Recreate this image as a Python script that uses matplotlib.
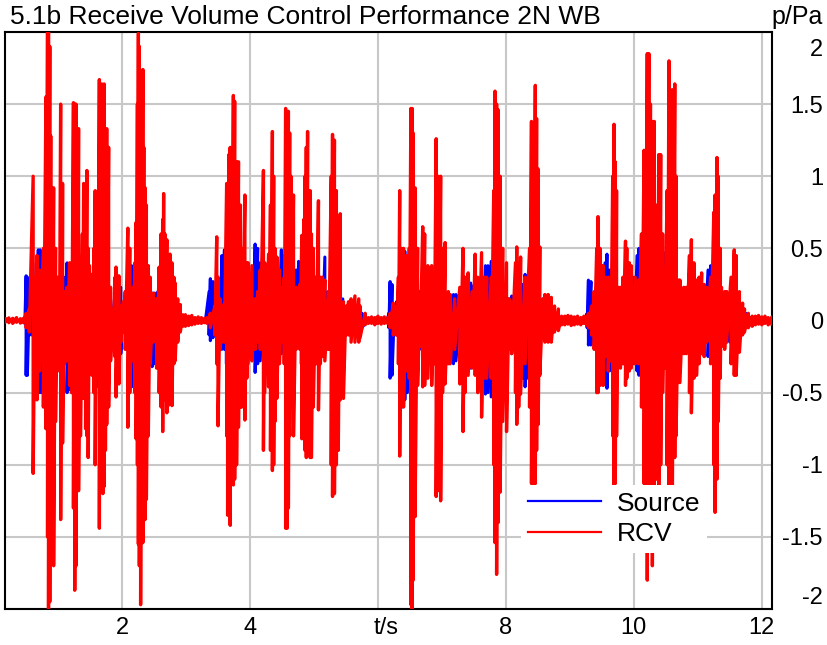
import numpy as np
import matplotlib
matplotlib.use("Agg")
import matplotlib.pyplot as plt
from matplotlib.lines import Line2D
from matplotlib.transforms import ScaledTranslation

plt.rcParams['font.family'] = ['Liberation Sans', 'DejaVu Sans']

# RCV (red) peak strokes: time, upper peak, lower peak
rcv_t = [0.17, 0.23, 0.29, 0.35, 0.41, 0.46,
         0.50, 0.55, 0.61, 0.64, 0.67, 0.71, 0.77, 0.81, 0.835, 0.85, 0.87, 0.885, 0.90, 0.93, 0.96, 0.99,
         1.02, 1.04, 1.06, 1.07, 1.10, 1.14, 1.18, 1.21, 1.24, 1.26, 1.28, 1.30, 1.32, 1.35, 1.38, 1.40,
         1.43, 1.45, 1.47, 1.49, 1.53, 1.56, 1.58, 1.60, 1.62, 1.645, 1.66, 1.68, 1.70, 1.72, 1.74, 1.76,
         1.79, 1.82, 1.865, 1.89, 1.905, 1.93, 1.95, 1.98, 2.02, 2.05, 2.09, 2.12, 2.17, 2.20, 2.22, 2.24,
         2.255, 2.27, 2.29, 2.31, 2.325, 2.34, 2.36, 2.38, 2.41, 2.44, 2.49, 2.54, 2.58, 2.61, 2.635, 2.65,
         2.67, 2.70, 2.72, 2.75, 2.78, 2.81, 2.83, 2.87, 2.91, 2.95,
         2.99, 3.04, 3.09, 3.14, 3.19, 3.24, 3.29, 3.33,
         3.38, 3.45, 3.48, 3.50, 3.53, 3.56, 3.60, 3.635, 3.65, 3.67, 3.69, 3.71, 3.74, 3.76, 3.79, 3.82,
         3.85, 3.87, 3.92, 3.95, 3.97, 4.03, 4.08, 4.12, 4.16, 4.21, 4.23, 4.29, 4.32, 4.35, 4.37, 4.39,
         4.42, 4.46, 4.50, 4.535, 4.557, 4.58, 4.60, 4.62, 4.64, 4.68, 4.72, 4.75, 4.78, 4.81, 4.84, 4.86,
         4.88, 4.90, 4.94, 4.96, 4.99, 5.03, 5.07, 5.10, 5.13, 5.17, 5.23, 5.27, 5.29, 5.32, 5.35, 5.38,
         5.41, 5.46, 5.50, 5.54, 5.58, 5.64, 5.70, 5.72, 5.80, 5.85,
         5.90, 5.95, 6.00, 6.05, 6.10, 6.15,
         6.19, 6.24, 6.29, 6.32, 6.34, 6.36, 6.40, 6.45, 6.49, 6.515, 6.535, 6.55, 6.58, 6.62, 6.66, 6.70,
         6.73, 6.78, 6.84, 6.88, 6.91, 6.94, 6.98, 7.01, 7.05, 7.10, 7.13, 7.20, 7.28, 7.33, 7.36, 7.41,
         7.47, 7.52, 7.56, 7.62, 7.66, 7.70, 7.77, 7.81, 7.83, 7.855, 7.88, 7.91, 7.95, 8.01, 8.05, 8.09,
         8.15, 8.17, 8.20, 8.23, 8.30, 8.37, 8.40, 8.43, 8.46, 8.48, 8.505, 8.53, 8.58, 8.61, 8.66, 8.71,
         8.76, 8.82, 8.87,
         8.92, 8.97, 9.02, 9.07, 9.12, 9.17, 9.22, 9.26,
         9.29, 9.34, 9.38, 9.42, 9.44, 9.47, 9.50, 9.52, 9.56, 9.60, 9.64, 9.67, 9.69, 9.71, 9.73, 9.755,
         9.79, 9.83, 9.87, 9.89, 9.93, 9.96, 10.02, 10.07, 10.12, 10.16, 10.18, 10.21, 10.235, 10.26, 10.29, 10.32,
         10.36, 10.39, 10.42, 10.45, 10.48, 10.52, 10.55, 10.57, 10.60, 10.64, 10.66, 10.70, 10.72, 10.78, 10.82, 10.87,
         10.90, 10.94, 10.98, 11.02, 11.06, 11.10, 11.14, 11.20, 11.25, 11.27, 11.30, 11.32, 11.35, 11.37, 11.42, 11.45,
         11.52, 11.57, 11.60, 11.65, 11.70, 11.73, 11.79, 11.85,
         11.90, 11.95, 12.00, 12.05, 12.10, 12.16]
rcv_hi = [0.012, 0.018, 0.015, 0.02, 0.012, 0.015,
          0.05, 0.08, 1.0, 0.3, 0.45, 0.35, 0.5, 1.55, 2.05, 2.05, 1.9, 1.28, 0.7, 0.92, 0.5, 0.3,
          0.25, 1.5, 0.6, 0.95, 0.2, 0.23, 0.4, 0.3, 1.51, 1.5, 1.5, 0.9, 1.33, 0.44, 0.6, 0.95,
          0.7, 1.04, 0.5, 0.38, 0.32, 0.5, 0.9, 0.3, 0.5, 1.67, 1.2, 1.64, 1.3, 1.64, 1.3, 1.33,
          1.2, 0.23, 0.08, 0.3, 0.37, 0.2, 0.31, 0.1, 0.13, 0.2, 0.64, 0.5, 0.23, 0.4, 0.68, 1.5,
          1.99, 1.9, 1.7, 1.5, 1.74, 1.2, 0.92, 0.8, 0.38, 0.3, 0.19, 0.15, 0.37, 0.6, 0.7, 0.88,
          0.6, 0.56, 0.4, 0.46, 0.4, 0.3, 0.26, 0.15, 0.11, 0.04,
          0.04, 0.03, 0.035, 0.02, 0.025, 0.02, 0.015, 0.02,
          0.05, 0.1, 0.58, 0.3, 0.15, 0.1, 0.12, 0.95, 0.9, 1.15, 1.2, 1.15, 1.56, 1.52, 1.1, 1.1,
          0.8, 0.5, 0.87, 0.4, 0.4, 0.38, 0.15, 0.2, 0.35, 1.04, 0.4, 0.46, 0.8, 1.31, 1.0, 0.5,
          0.44, 0.35, 0.23, 0.3, 1.47, 1.4, 1.45, 1.3, 1.0, 0.87, 0.23, 0.2, 0.25, 0.59, 0.7, 1.0,
          1.2, 1.31, 0.9, 0.6, 0.5, 0.3, 0.83, 0.3, 0.3, 0.28, 0.2, 1.0, 1.29, 1.25, 0.9, 0.6,
          0.74, 0.13, 0.1, 0.13, 0.15, 0.17, 0.15, 0.1, 0.05, 0.02,
          0.025, 0.02, 0.03, 0.02, 0.025, 0.02,
          0.05, 0.12, 0.1, 0.3, 0.9, 0.5, 0.5, 0.45, 0.5, 1.47, 1.47, 1.3, 0.92, 0.5, 0.18, 0.65,
          0.6, 0.38, 0.38, 0.3, 1.26, 1.0, 1.0, 0.5, 0.54, 0.2, 0.18, 0.15, 0.23, 0.5, 0.3, 0.33,
          0.2, 0.46, 0.3, 0.47, 0.3, 0.3, 0.3, 0.9, 1.59, 1.5, 1.46, 1.0, 0.5, 0.4, 0.15, 0.13,
          0.4, 0.51, 0.4, 0.44, 0.3, 0.5, 1.38, 1.3, 1.63, 1.4, 1.05, 0.51, 0.15, 0.18, 0.18, 0.16,
          0.1, 0.08, 0.03,
          0.03, 0.035, 0.03, 0.025, 0.03, 0.02, 0.03, 0.025,
          0.05, 0.1, 0.2, 0.5, 0.72, 0.5, 0.38, 0.38, 0.3, 0.3, 0.28, 1.0, 1.36, 1.1, 0.9, 0.23,
          0.23, 0.3, 0.55, 0.5, 0.4, 0.38, 0.3, 0.28, 0.6, 1.18, 1.1, 1.85, 1.85, 1.5, 1.38, 1.38,
          0.8, 1.15, 1.15, 0.6, 0.33, 0.9, 1.8, 1.55, 1.6, 1.64, 1.0, 0.28, 0.28, 0.23, 0.23, 0.45,
          0.56, 0.4, 0.28, 0.3, 0.33, 0.25, 0.23, 0.3, 0.75, 0.87, 1.13, 1.0, 0.5, 0.23, 0.2, 0.2,
          0.3, 0.49, 0.45, 0.2, 0.12, 0.08, 0.05, 0.03,
          0.03, 0.035, 0.025, 0.03, 0.02, 0.025]
rcv_lo = [-0.012, -0.015, -0.02, -0.012, -0.018, -0.015,
          -0.05, -0.08, -1.06, -0.3, -0.55, -0.35, -0.6, -0.75, -1.5, -2.05, -1.95, -1.15, -1.2, -1.7, -0.7, -0.23,
          -0.35, -1.38, -0.6, -0.85, -0.3, -0.28, -0.45, -0.5, -1.3, -1.87, -1.7, -1.0, -1.18, -0.8, -0.5, -0.54,
          -0.75, -0.8, -0.95, -0.2, -0.38, -0.5, -1.0, -0.3, -0.4, -1.44, -1.0, -1.0, -1.2, -1.15, -0.9, -0.72,
          -0.6, -0.28, -0.1, -0.25, -0.53, -0.3, -0.44, -0.15, -0.08, -0.2, -0.74, -0.5, -0.28, -0.5, -0.82, -1.0,
          -1.55, -1.7, -1.97, -1.5, -1.54, -1.3, -1.38, -1.24, -0.8, -0.3, -0.15, -0.33, -0.5, -0.6, -0.77, -0.55,
          -0.5, -0.64, -0.59, -0.4, -0.59, -0.3, -0.28, -0.15, -0.08, -0.04,
          -0.04, -0.035, -0.03, -0.025, -0.02, -0.02, -0.015, -0.02,
          -0.05, -0.1, -0.3, -0.73, -0.2, -0.15, -0.15, -0.8, -1.35, -1.2, -1.42, -1.1, -1.14, -1.1, -1.0, -0.74,
          -0.6, -0.6, -0.69, -0.4, -0.3, -0.28, -0.2, -0.15, -0.2, -0.9, -0.5, -0.46, -0.9, -1.04, -1.0, -0.7,
          -0.54, -0.3, -0.15, -0.3, -1.44, -1.44, -1.3, -0.8, -0.6, -0.8, -0.2, -0.15, -0.2, -0.82, -0.7, -0.9,
          -0.95, -0.8, -0.95, -0.95, -0.6, -0.3, -0.62, -0.3, -0.25, -0.28, -0.2, -1.0, -1.22, -1.2, -1.0, -0.9,
          -0.55, -0.54, -0.1, -0.1, -0.15, -0.15, -0.15, -0.12, -0.03, -0.02,
          -0.02, -0.03, -0.02, -0.025, -0.02, -0.02,
          -0.05, -0.1, -0.1, -0.3, -0.94, -0.5, -0.6, -0.35, -0.4, -1.97, -2.05, -1.8, -1.36, -0.45, -0.18, -0.46,
          -0.45, -0.4, -0.45, -0.3, -1.22, -1.18, -1.25, -0.5, -0.44, -0.3, -0.3, -0.2, -0.44, -0.77, -0.5, -0.38,
          -0.33, -0.38, -0.5, -0.67, -0.4, -0.4, -0.4, -1.0, -1.54, -1.76, -1.4, -1.19, -0.7, -0.77, -0.2, -0.23,
          -0.5, -0.72, -0.6, -0.51, -0.3, -0.6, -1.13, -1.13, -1.13, -0.9, -0.72, -0.38, -0.1, -0.15, -0.15, -0.15,
          -0.08, -0.07, -0.03,
          -0.03, -0.025, -0.035, -0.03, -0.025, -0.03, -0.02, -0.03,
          -0.05, -0.1, -0.2, -0.5, -0.5, -0.45, -0.4, -0.45, -0.25, -0.35, -0.28, -0.8, -1.4, -1.13, -0.8, -0.28,
          -0.33, -0.3, -0.45, -0.4, -0.35, -0.33, -0.3, -0.3, -0.6, -1.13, -1.6, -1.8, -1.5, -1.3, -1.7, -1.2,
          -1.1, -1.19, -1.0, -0.5, -0.33, -1.0, -1.55, -1.55, -1.4, -0.95, -0.8, -0.43, -0.43, -0.23, -0.23, -0.5,
          -0.64, -0.4, -0.38, -0.3, -0.23, -0.25, -0.15, -0.3, -1.0, -1.33, -1.1, -0.7, -0.4, -0.18, -0.2, -0.15,
          -0.3, -0.38, -0.38, -0.22, -0.1, -0.08, -0.05, -0.04,
          -0.03, -0.025, -0.03, -0.02, -0.03, -0.025]

# Source (blue) peak strokes, quiet stretches included so the trace stays on the baseline
src_t = [0.17, 0.30, 0.45,
         0.48, 0.50, 0.52, 0.55, 0.58, 0.62, 0.66, 0.69, 0.72, 0.75, 0.78, 0.85, 0.90, 0.95, 1.00, 1.05,
         1.10, 1.14, 1.17, 1.20, 1.25, 1.30, 1.35, 1.40, 1.45, 1.50, 1.55, 1.60, 1.63, 1.70, 1.76, 1.82,
         1.88, 1.93, 1.98, 2.02, 2.07, 2.12, 2.15, 2.18, 2.25, 2.30, 2.36, 2.42, 2.47, 2.51, 2.56, 2.62,
         2.70, 2.78, 2.86, 2.94,
         3.00, 3.10, 3.20, 3.30,
         3.36, 3.38, 3.42, 3.46, 3.52, 3.56, 3.60, 3.63, 3.70, 3.78, 3.85, 3.92, 3.98, 4.05, 4.08, 4.12,
         4.16, 4.22, 4.30, 4.38, 4.45, 4.49, 4.52, 4.58, 4.65, 4.72, 4.76, 4.80, 4.88, 4.95, 5.02, 5.07,
         5.12, 5.17, 5.22, 5.30, 5.38, 5.45, 5.55, 5.65, 5.75,
         5.85, 5.95, 6.05, 6.14,
         6.17, 6.19, 6.22, 6.26, 6.29, 6.33, 6.38, 6.42, 6.46, 6.52, 6.58, 6.65, 6.72, 6.80, 6.88, 6.95,
         7.02, 7.10, 7.18, 7.22, 7.30, 7.38, 7.45, 7.49, 7.55, 7.62, 7.68, 7.72, 7.77, 7.82, 7.90, 7.98,
         8.05, 8.09, 8.14, 8.20, 8.26, 8.30, 8.34, 8.42, 8.50, 8.58, 8.68, 8.78,
         8.88, 9.00, 9.12, 9.24,
         9.27, 9.29, 9.33, 9.37, 9.43, 9.50, 9.55, 9.58, 9.62, 9.70, 9.78, 9.85, 9.92, 10.00, 10.05, 10.08,
         10.12, 10.20, 10.30, 10.40, 10.46, 10.49, 10.55, 10.65, 10.72, 10.80, 10.88, 10.95, 11.02, 11.10, 11.16, 11.20,
         11.26, 11.34, 11.40, 11.45, 11.50, 11.58, 11.66, 11.75,
         11.85, 11.95, 12.05, 12.16]
src_hi = [0.01, 0.01, 0.01,
          0.02, 0.31, 0.3, 0.15, 0.1, 0.3, 0.4, 0.49, 0.49, 0.45, 0.4, 0.4, 0.35, 0.3, 0.2, 0.35,
          0.3, 0.4, 0.38, 0.3, 0.4, 0.35, 0.3, 0.3, 0.3, 0.25, 0.2, 0.28, 0.3, 0.4, 0.35, 0.2,
          0.15, 0.2, 0.23, 0.1, 0.2, 0.3, 0.38, 0.3, 0.4, 0.4, 0.3, 0.2, 0.19, 0.19, 0.2, 0.25,
          0.2, 0.15, 0.08, 0.03,
          0.01, 0.01, 0.01, 0.01,
          0.2, 0.29, 0.27, 0.15, 0.2, 0.45, 0.49, 0.3, 0.4, 0.4, 0.35, 0.3, 0.25, 0.3, 0.53, 0.5,
          0.4, 0.35, 0.3, 0.35, 0.3, 0.49, 0.45, 0.4, 0.3, 0.35, 0.41, 0.3, 0.35, 0.3, 0.25, 0.38,
          0.25, 0.44, 0.2, 0.35, 0.3, 0.15, 0.1, 0.1, 0.05,
          0.01, 0.01, 0.01, 0.01,
          0.05, 0.27, 0.25, 0.1, 0.13, 0.3, 0.49, 0.48, 0.45, 0.4, 0.35, 0.2, 0.3, 0.25, 0.25, 0.35,
          0.3, 0.15, 0.18, 0.18, 0.2, 0.2, 0.26, 0.24, 0.25, 0.3, 0.38, 0.38, 0.41, 0.35, 0.3, 0.2,
          0.15, 0.17, 0.15, 0.2, 0.25, 0.32, 0.3, 0.3, 0.2, 0.15, 0.1, 0.05,
          0.01, 0.01, 0.01, 0.01,
          0.05, 0.28, 0.27, 0.1, 0.3, 0.3, 0.4, 0.46, 0.35, 0.3, 0.2, 0.25, 0.25, 0.3, 0.45, 0.5,
          0.4, 0.35, 0.35, 0.3, 0.45, 0.47, 0.35, 0.3, 0.2, 0.2, 0.25, 0.25, 0.2, 0.2, 0.35, 0.38,
          0.3, 0.2, 0.15, 0.2, 0.15, 0.2, 0.1, 0.05,
          0.01, 0.01, 0.01, 0.01]
src_lo = [-0.01, -0.01, -0.01,
          -0.02, -0.38, -0.38, -0.1, -0.1, -0.3, -0.45, -0.5, -0.5, -0.5, -0.4, -0.45, -0.4, -0.3, -0.2, -0.35,
          -0.3, -0.5, -0.48, -0.35, -0.4, -0.35, -0.3, -0.35, -0.3, -0.25, -0.25, -0.46, -0.3, -0.4, -0.3, -0.2,
          -0.2, -0.2, -0.23, -0.08, -0.2, -0.35, -0.46, -0.4, -0.4, -0.4, -0.3, -0.25, -0.32, -0.3, -0.2, -0.25,
          -0.2, -0.15, -0.08, -0.03,
          -0.01, -0.01, -0.01, -0.01,
          -0.1, -0.14, -0.12, -0.1, -0.2, -0.2, -0.2, -0.3, -0.4, -0.4, -0.35, -0.3, -0.25, -0.2, -0.36, -0.3,
          -0.28, -0.3, -0.3, -0.35, -0.25, -0.23, -0.22, -0.4, -0.3, -0.13, -0.15, -0.3, -0.35, -0.3, -0.25, -0.3,
          -0.25, -0.23, -0.2, -0.35, -0.3, -0.2, -0.1, -0.1, -0.05,
          -0.01, -0.01, -0.01, -0.01,
          -0.05, -0.4, -0.38, -0.1, -0.1, -0.3, -0.6, -0.55, -0.5, -0.4, -0.35, -0.2, -0.3, -0.3, -0.3, -0.35,
          -0.3, -0.2, -0.3, -0.28, -0.25, -0.25, -0.33, -0.3, -0.3, -0.4, -0.51, -0.5, -0.53, -0.35, -0.3, -0.25,
          -0.2, -0.23, -0.2, -0.25, -0.4, -0.46, -0.4, -0.3, -0.2, -0.12, -0.1, -0.05,
          -0.01, -0.01, -0.01, -0.01,
          -0.05, -0.17, -0.17, -0.1, -0.3, -0.3, -0.4, -0.47, -0.35, -0.3, -0.25, -0.3, -0.25, -0.3, -0.35, -0.38,
          -0.4, -0.35, -0.35, -0.3, -0.33, -0.33, -0.35, -0.3, -0.25, -0.2, -0.25, -0.25, -0.2, -0.2, -0.25, -0.25,
          -0.3, -0.2, -0.15, -0.15, -0.15, -0.2, -0.1, -0.05,
          -0.01, -0.01, -0.01, -0.01]

x_ticks = [2, 4, 6, 8, 10, 12]
x_labels = ['2', '4', 't/s', '8', '10', '12']
y_ticks = [-2, -1.5, -1, -0.5, 0, 0.5, 1, 1.5, 2]
y_labels = ['-2', '-1.5', '-1', '-0.5', '0', '0.5', '1', '1.5', '2']


def zigzag(t, hi, lo):
    # each stroke goes up to its upper peak then down to its lower peak
    x = np.repeat(np.asarray(t, float), 2)
    y = np.column_stack([hi, lo]).ravel()
    return x, y


W, H = 828, 645
fig = plt.figure(figsize=(W / 100, H / 100), dpi=100)
ax = fig.add_axes([5 / W, (H - 609) / H, (772 - 5) / W, (609 - 32) / H])

sx, sy = zigzag(src_t, src_hi, src_lo)
rx, ry = zigzag(rcv_t, rcv_hi, rcv_lo)
ax.plot(sx, sy, color='#0000ff', lw=2.2, zorder=2)
ax.plot(rx, ry, color='#ff0000', lw=2.4, zorder=3)

ax.set_xlim(0.17, 12.16)
ax.set_ylim(-2.0, 2.0)

ax.set_xticks(x_ticks)
ax.set_xticklabels(x_labels)
ax.set_yticks(y_ticks)
ax.set_yticklabels(y_labels)
ax.yaxis.tick_right()
ax.grid(True, color='#c8c8c8', lw=1.5, zorder=0)
ax.set_axisbelow(True)

ax.tick_params(axis='x', length=0, pad=6, labelsize=17)
ax.tick_params(axis='y', length=0, pad=51 * 0.72, labelsize=17)
for lab in ax.get_yticklabels():
    lab.set_horizontalalignment('right')
# end labels are pulled inside the axis range
ylabs = ax.get_yticklabels()
ylabs[-1].set_transform(ylabs[-1].get_transform() + ScaledTranslation(0, -0.15, fig.dpi_scale_trans))
ylabs[0].set_transform(ylabs[0].get_transform() + ScaledTranslation(0, 0.13, fig.dpi_scale_trans))
xlabs = ax.get_xticklabels()
xlabs[2].set_transform(xlabs[2].get_transform() + ScaledTranslation(0.08, 0, fig.dpi_scale_trans))

for sp in ax.spines.values():
    sp.set_linewidth(1.5)
    sp.set_color('black')

fig.text(10 / W, 1 - 17 / H, '5.1b Receive Volume Control Performance 2N WB',
         fontsize=19, va='center', ha='left')
fig.text(823 / W, 1 - 17 / H, 'p/Pa', fontsize=18, va='center', ha='right')

handles = [Line2D([], [], color='#0000ff', lw=1.6), Line2D([], [], color='#ff0000', lw=1.6)]
leg = ax.legend(handles, ['Source', 'RCV'], loc='upper left',
                bbox_to_anchor=((521 - 5) / 767, (609 - 485) / 577),
                fontsize=19, frameon=True, fancybox=False, framealpha=1,
                facecolor='white', edgecolor='none', borderaxespad=0,
                borderpad=0.25, handlelength=2.8, handletextpad=0.6, labelspacing=0.25)
leg.set_zorder(5)

fig.savefig('out.png', dpi=100)
